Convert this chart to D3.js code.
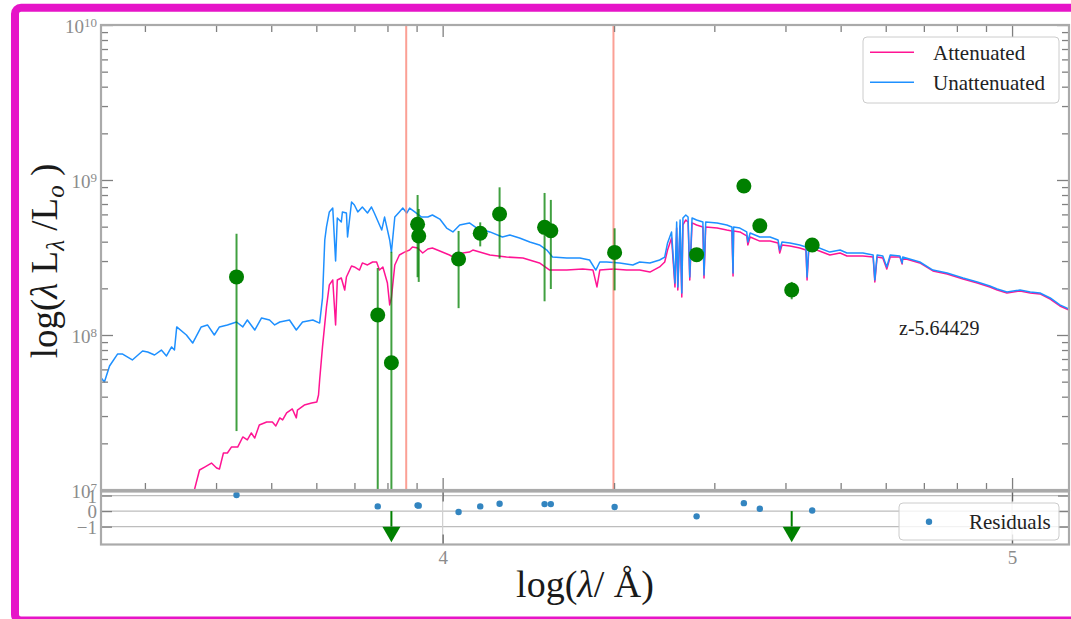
<!DOCTYPE html>
<html>
<head>
<meta charset="utf-8">
<script src="https://cdn.jsdelivr.net/npm/d3@7"></script>
<style>
  html, body { margin: 0; padding: 0; background: #fff; }
  svg { display: block; font-family: "Liberation Serif", "Times New Roman", serif; }
</style>
</head>
<body>
<script>
// ---- Model spectra: log10(wavelength / Å) and log10(λLλ / Lsun) ----
const unattLogLam = [3.399,3.406,3.415,3.429,3.438,3.455,3.473,3.482,3.494,3.506,3.515,3.524,3.529,3.533,3.550,3.561,3.576,3.587,3.599,3.608,3.622,3.638,3.649,3.657,3.670,3.682,3.696,3.705,3.714,3.731,3.743,3.754,3.772,3.784,3.789,3.793,3.796,3.801,3.807,3.812,3.815,3.822,3.824,3.831,3.833,3.840,3.845,3.851,3.859,3.868,3.875,3.880,3.893,3.898,3.907,3.910,3.916,3.924,3.930,3.937,3.942,3.951,3.963,3.974,3.982,3.995,4.007,4.018,4.030,4.047,4.060,4.083,4.105,4.118,4.135,4.153,4.170,4.183,4.193,4.218,4.241,4.258,4.269,4.276,4.288,4.311,4.334,4.346,4.364,4.381,4.390,4.395,4.402,4.408,4.411,4.413,4.417,4.420,4.422,4.427,4.431,4.434,4.438,4.446,4.457,4.459,4.462,4.482,4.499,4.508,4.510,4.511,4.522,4.534,4.536,4.540,4.557,4.575,4.589,4.592,4.596,4.610,4.627,4.638,4.640,4.643,4.657,4.680,4.698,4.710,4.738,4.756,4.759,4.763,4.773,4.780,4.786,4.803,4.807,4.808,4.826,4.838,4.861,4.886,4.914,4.939,4.961,4.974,4.991,5.014,5.032,5.049,5.067,5.084,5.100];
const unattLogLum = [7.729,7.697,7.800,7.877,7.877,7.839,7.897,7.890,7.871,7.903,7.865,7.923,7.903,8.052,8.000,7.948,8.052,8.065,8.000,8.052,8.065,8.084,8.052,8.097,8.032,8.110,8.097,8.065,8.084,8.097,8.032,8.084,8.097,8.077,8.239,8.613,8.697,8.794,8.819,8.477,8.755,8.729,8.794,8.787,8.632,8.858,8.839,8.794,8.826,8.787,8.826,8.787,8.677,8.761,8.613,8.535,8.761,8.794,8.819,8.787,8.819,8.794,8.761,8.761,8.774,8.748,8.690,8.665,8.710,8.723,8.690,8.665,8.632,8.645,8.626,8.600,8.581,8.548,8.503,8.497,8.497,8.484,8.419,8.471,8.471,8.465,8.452,8.471,8.465,8.484,8.503,8.594,8.665,8.335,8.729,8.310,8.742,8.271,8.755,8.774,8.761,8.374,8.755,8.742,8.729,8.387,8.729,8.723,8.710,8.697,8.400,8.697,8.690,8.665,8.600,8.658,8.632,8.632,8.613,8.548,8.600,8.594,8.581,8.568,8.374,8.568,8.568,8.535,8.548,8.529,8.529,8.516,8.355,8.516,8.510,8.439,8.516,8.510,8.465,8.503,8.484,8.471,8.419,8.400,8.368,8.342,8.316,8.297,8.277,8.290,8.277,8.271,8.239,8.194,8.168];

const attLogLam = [3.552,3.564,3.573,3.582,3.594,3.603,3.608,3.615,3.622,3.629,3.640,3.649,3.657,3.664,3.670,3.678,3.691,3.701,3.707,3.714,3.719,3.726,3.736,3.743,3.745,3.757,3.770,3.779,3.782,3.784,3.789,3.796,3.801,3.807,3.812,3.815,3.822,3.828,3.831,3.840,3.845,3.854,3.859,3.868,3.877,3.884,3.889,3.895,3.903,3.907,3.910,3.916,3.924,3.933,3.942,3.947,3.956,3.965,3.974,3.982,3.995,4.012,4.025,4.035,4.047,4.053,4.083,4.112,4.141,4.170,4.188,4.218,4.246,4.264,4.271,4.276,4.299,4.323,4.346,4.364,4.381,4.390,4.395,4.402,4.408,4.411,4.413,4.417,4.420,4.422,4.427,4.431,4.434,4.438,4.446,4.457,4.459,4.462,4.482,4.499,4.508,4.510,4.511,4.522,4.534,4.536,4.540,4.557,4.575,4.589,4.592,4.596,4.610,4.627,4.638,4.640,4.643,4.657,4.680,4.698,4.710,4.738,4.756,4.759,4.763,4.773,4.780,4.786,4.803,4.807,4.808,4.826,4.838,4.861,4.886,4.914,4.939,4.961,4.974,4.991,5.014,5.032,5.049,5.067,5.084,5.100];
const attLogLum = [6.871,7.000,7.129,7.148,7.174,7.142,7.135,7.239,7.239,7.277,7.277,7.342,7.323,7.368,7.335,7.419,7.439,7.439,7.413,7.465,7.452,7.497,7.523,7.465,7.516,7.548,7.561,7.568,7.613,7.710,7.923,8.181,8.323,8.355,8.065,8.355,8.368,8.290,8.374,8.445,8.439,8.419,8.465,8.452,8.471,8.471,8.419,8.439,8.335,8.194,8.239,8.452,8.516,8.535,8.548,8.568,8.561,8.529,8.555,8.561,8.542,8.516,8.490,8.529,8.535,8.548,8.516,8.503,8.497,8.465,8.419,8.419,8.426,8.419,8.310,8.419,8.426,8.419,8.419,8.406,8.439,8.471,8.548,8.626,8.310,8.690,8.290,8.703,8.245,8.710,8.742,8.729,8.355,8.723,8.710,8.697,8.368,8.697,8.690,8.677,8.671,8.381,8.671,8.665,8.639,8.581,8.632,8.606,8.606,8.594,8.529,8.581,8.574,8.561,8.548,8.355,8.548,8.548,8.516,8.529,8.510,8.510,8.503,8.342,8.503,8.497,8.426,8.503,8.503,8.458,8.497,8.477,8.465,8.413,8.394,8.361,8.335,8.310,8.290,8.271,8.284,8.271,8.265,8.232,8.187,8.161];

// ---- Photometry: log10(wavelength / Å), λLλ and 1σ error in Lsun ----
const photLogLam = [3.638,3.886,3.910,3.956,3.958,4.028,4.066,4.100,4.179,4.190,4.302,4.446,4.529,4.557,4.613,4.649];
const photLum    = [2.37e8,1.345e8,0.662e8,5.18e8,4.35e8,3.09e8,4.53e8,6.04e8,4.95e8,4.71e8,3.41e8,3.30e8,9.14e8,5.07e8,1.95e8,3.81e8];
const photErr    = [2.13e8,1.36e8,2.78e8,2.82e8,2.15e8,1.60e8,0.80e8,2.93e8,3.30e8,2.73e8,1.47e8,0.30e8,0.30e8,0.30e8,0.25e8,0.30e8];

// ---- Normalised residuals (off-scale points are flagged and drawn as arrows) ----
const residuals     = [1.03,0.30,null,0.37,0.35,-0.06,0.30,0.47,0.45,0.45,0.26,-0.34,0.51,0.15,null,0.04];
const residualBelow = [false,false,true,false,false,false,false,false,false,false,false,false,false,false,true,false];

// ---- Reference wavelengths marked by vertical lines ----
const markerLogLam = [3.936, 4.300];

// ---- Ticks and labels ----
const yTickExponents = [7, 8, 9, 10];
const xMajorLogLam = [4, 5];
const xTickLabels = ["4", "5"];
const residualTicks = [-1, 0, 1];
const seriesNames = ["Attenuated", "Unattenuated"];
const residualName = "Residuals";
const redshiftLabel = "z-5.64429";

// ================= drawing =================
const W = 1071, H = 619;
const M = { l: 101, r: 1069, t: 25, b: 490 };   // main panel
const R = { t: 491.5, b: 544.5 };               // residual panel

const pink = "#ff1493", blue = "#1e90ff", dataGreen = "#008000";
const spineColor = "#aaaaaa", tickColor = "#808080", tickText = "#8c8c8c";

const svg = d3.select("body").append("svg").attr("width", W).attr("height", H);

// page frame
svg.append("rect")
  .attr("x", 15).attr("y", 7.8).attr("width", 1075).attr("height", 612.7)
  .attr("rx", 6).attr("fill", "none").attr("stroke", "#e614c8").attr("stroke-width", 8);

const x = d3.scaleLog().domain([10 ** 3.4, 10 ** 5.1]).range([M.l, M.r]);
const y = d3.scaleLog().domain([1e7, 1e10]).range([M.b, M.t]);
const yr = d3.scaleLinear().domain([-2.15, 1.26]).range([R.b, R.t]);

const defs = svg.append("defs");
defs.append("clipPath").attr("id", "clipMain").append("rect")
  .attr("x", M.l).attr("y", M.t).attr("width", M.r - M.l).attr("height", M.b - M.t);

// ---- main panel content ----
const plot = svg.append("g").attr("clip-path", "url(#clipMain)");
const line = d3.line().x(d => x(10 ** d[0])).y(d => y(10 ** d[1]));

plot.append("path").datum(d3.zip(attLogLam, attLogLum))
  .attr("d", line).attr("fill", "none").attr("stroke", pink)
  .attr("stroke-width", 1.5).attr("stroke-linejoin", "round");
plot.append("path").datum(d3.zip(unattLogLam, unattLogLum))
  .attr("d", line).attr("fill", "none").attr("stroke", blue)
  .attr("stroke-width", 1.5).attr("stroke-linejoin", "round");

plot.selectAll(".marker").data(markerLogLam).join("line")
  .attr("x1", d => x(10 ** d)).attr("x2", d => x(10 ** d))
  .attr("y1", M.t).attr("y2", M.b)
  .attr("stroke", "salmon").attr("stroke-opacity", 0.75).attr("stroke-width", 2);

const phot = photLogLam.map((l, i) => ({ lam: 10 ** l, lum: photLum[i], err: photErr[i] }));
plot.selectAll(".err").data(phot).join("line")
  .attr("x1", d => x(d.lam)).attr("x2", d => x(d.lam))
  .attr("y1", d => y(Math.max(d.lum - d.err, 1e5)))
  .attr("y2", d => y(d.lum + d.err))
  .attr("stroke", dataGreen).attr("stroke-opacity", 0.75).attr("stroke-width", 2);
plot.selectAll(".pt").data(phot).join("circle")
  .attr("cx", d => x(d.lam)).attr("cy", d => y(d.lum)).attr("r", 7.5)
  .attr("fill", dataGreen);

svg.append("text").attr("x", 899).attr("y", 335)
  .attr("font-size", 20).attr("fill", "#222").text(redshiftLabel);

// ---- axes helpers ----
function styleAxis(g) {
  g.select(".domain").remove();
  g.selectAll(".tick line").attr("stroke", tickColor).attr("stroke-width", 1.3);
  g.selectAll(".tick text").attr("fill", tickText).attr("font-size", 19)
    .attr("font-family", "Liberation Serif, serif");
}
const majorY = yTickExponents.map(e => 10 ** e);
const minorY = y.ticks().filter(v => !majorY.some(m => Math.abs(m - v) / v < 1e-9));
const majorX = xMajorLogLam.map(e => 10 ** e);
const minorX = x.ticks().filter(v => !majorX.some(m => Math.abs(m - v) / v < 1e-9));

// main panel ticks (all inward)
svg.append("g").attr("transform", `translate(${M.l},0)`)
  .call(d3.axisLeft(y).tickValues(minorY).tickSize(-7).tickFormat("")).call(styleAxis);
svg.append("g").attr("transform", `translate(${M.r},0)`)
  .call(d3.axisRight(y).tickValues(minorY).tickSize(-7).tickFormat("")).call(styleAxis);
svg.append("g").attr("transform", `translate(${M.r},0)`)
  .call(d3.axisRight(y).tickValues(majorY).tickSize(-12).tickFormat("")).call(styleAxis);
const yAxisMain = svg.append("g").attr("transform", `translate(${M.l},0)`)
  .call(d3.axisLeft(y).tickValues(majorY).tickSize(-12).tickPadding(4).tickFormat(""))
  .call(styleAxis);
yAxisMain.selectAll(".tick text").attr("dy", "0.42em").each(function (d) {
  const t = d3.select(this);
  t.append("tspan").text("10");
  t.append("tspan").attr("dy", "-0.5em").attr("font-size", 13).text(Math.round(Math.log10(d)));
});

svg.append("g").attr("transform", `translate(0,${M.t})`)
  .call(d3.axisTop(x).tickValues(minorX).tickSize(-7).tickFormat("")).call(styleAxis);
svg.append("g").attr("transform", `translate(0,${M.t})`)
  .call(d3.axisTop(x).tickValues(majorX).tickSize(-12).tickFormat("")).call(styleAxis);
svg.append("g").attr("transform", `translate(0,${M.b})`)
  .call(d3.axisBottom(x).tickValues(minorX).tickSize(-7).tickFormat("")).call(styleAxis);
svg.append("g").attr("transform", `translate(0,${M.b})`)
  .call(d3.axisBottom(x).tickValues(majorX).tickSize(-12).tickFormat("")).call(styleAxis);

// main spines
svg.append("rect").attr("x", M.l).attr("y", M.t).attr("width", M.r - M.l).attr("height", M.b - M.t)
  .attr("fill", "none").attr("stroke", spineColor).attr("stroke-width", 2.2);

// ---- main legend ----
const leg = svg.append("g");
leg.append("rect").attr("x", 863).attr("y", 37).attr("width", 196).attr("height", 66).attr("rx", 4)
  .attr("fill", "#fff").attr("fill-opacity", 0.8).attr("stroke", "#cccccc").attr("stroke-width", 1);
[pink, blue].forEach((c, i) => {
  const yy = 52.3 + i * 30;
  leg.append("line").attr("x1", 870).attr("x2", 914).attr("y1", yy).attr("y2", yy)
    .attr("stroke", c).attr("stroke-width", 1.5);
  leg.append("text").attr("x", 933).attr("y", yy + 7.3).attr("font-size", 21)
    .attr("fill", "#222").text(seriesNames[i]);
});

// ---- residual panel ----
const rg = svg.append("g");
rg.selectAll(".hgrid").data(residualTicks).join("line")
  .attr("x1", M.l).attr("x2", M.r).attr("y1", d => yr(d)).attr("y2", d => yr(d))
  .attr("stroke", "#bdbdbd").attr("stroke-width", 1.2);
rg.selectAll(".vgrid").data(majorX).join("line")
  .attr("x1", d => x(d)).attr("x2", d => x(d)).attr("y1", R.t).attr("y2", R.b)
  .attr("stroke", "#cfcfcf").attr("stroke-width", 1.2);

svg.append("g").attr("transform", `translate(${M.l},0)`)
  .call(d3.axisLeft(yr).tickValues(residualTicks).tickSize(-11).tickPadding(4)
    .tickFormat(d3.format("d")))
  .call(styleAxis)
  .call(g => g.selectAll(".tick text").attr("dy", "0.36em"));
svg.append("g").attr("transform", `translate(${M.r},0)`)
  .call(d3.axisRight(yr).tickValues(residualTicks).tickSize(-11).tickFormat("")).call(styleAxis);
svg.append("g").attr("transform", `translate(0,${R.b})`)
  .call(d3.axisBottom(x).tickValues(majorX).tickSize(-10).tickPadding(6)
    .tickFormat((d, i) => xTickLabels[i]))
  .call(styleAxis)
  .call(g => g.selectAll(".tick line").attr("stroke", "#666"));
svg.append("g").attr("transform", `translate(0,${R.t})`)
  .call(d3.axisTop(x).tickValues(majorX).tickSize(-10).tickFormat("")).call(styleAxis)
  .call(g => g.selectAll(".tick line").attr("stroke", "#666"));

const resData = photLogLam.map((l, i) => ({ lam: 10 ** l, r: residuals[i], below: residualBelow[i] }));
rg.selectAll(".rdot").data(resData.filter(d => !d.below)).join("circle")
  .attr("cx", d => x(d.lam)).attr("cy", d => yr(d.r)).attr("r", 3.2)
  .attr("fill", "#3385c0");
const arrows = rg.selectAll(".arrow").data(resData.filter(d => d.below)).join("g");
arrows.append("line")
  .attr("x1", d => x(d.lam)).attr("x2", d => x(d.lam))
  .attr("y1", yr(0)).attr("y2", yr(-1))
  .attr("stroke", dataGreen).attr("stroke-width", 2);
arrows.append("path")
  .attr("d", d => {
    const cx = x(d.lam), y0 = yr(-1), y1 = yr(-2);
    return `M${cx - 9},${y0}L${cx + 9},${y0}L${cx},${y1}Z`;
  })
  .attr("fill", dataGreen);

svg.append("rect").attr("x", M.l).attr("y", R.t).attr("width", M.r - M.l).attr("height", R.b - R.t)
  .attr("fill", "none").attr("stroke", spineColor).attr("stroke-width", 2.2);

// residual legend
const rleg = svg.append("g");
rleg.append("rect").attr("x", 899).attr("y", 503).attr("width", 160).attr("height", 37).attr("rx", 4)
  .attr("fill", "#fff").attr("fill-opacity", 0.8).attr("stroke", "#cccccc").attr("stroke-width", 1);
rleg.append("circle").attr("cx", 929).attr("cy", 521.7).attr("r", 3.2).attr("fill", "#3385c0");
rleg.append("text").attr("x", 969).attr("y", 528.5).attr("font-size", 21).attr("fill", "#222").text(residualName);

// ---- axis titles ----
const yl = svg.append("text").attr("transform", "translate(57,261) rotate(-90)")
  .attr("text-anchor", "middle").attr("font-size", 37).attr("fill", "#1a1a1a");
yl.append("tspan").text("log(");
yl.append("tspan").attr("font-style", "italic").text("λ");
yl.append("tspan").text(" L");
yl.append("tspan").attr("font-style", "italic").attr("font-size", 25).attr("dy", 7).text("λ");
yl.append("tspan").attr("dy", -7).text(" /L");
yl.append("tspan").attr("font-style", "italic").attr("font-size", 25).attr("dy", 7).text("o");
yl.append("tspan").attr("dy", -7).text(" )");

const xl = svg.append("text").attr("x", (M.l + M.r) / 2).attr("y", 597)
  .attr("text-anchor", "middle").attr("font-size", 38).attr("fill", "#1a1a1a");
xl.append("tspan").text("log(");
xl.append("tspan").attr("font-style", "italic").text("λ");
xl.append("tspan").text("/ Å)");
</script>
</body>
</html>
